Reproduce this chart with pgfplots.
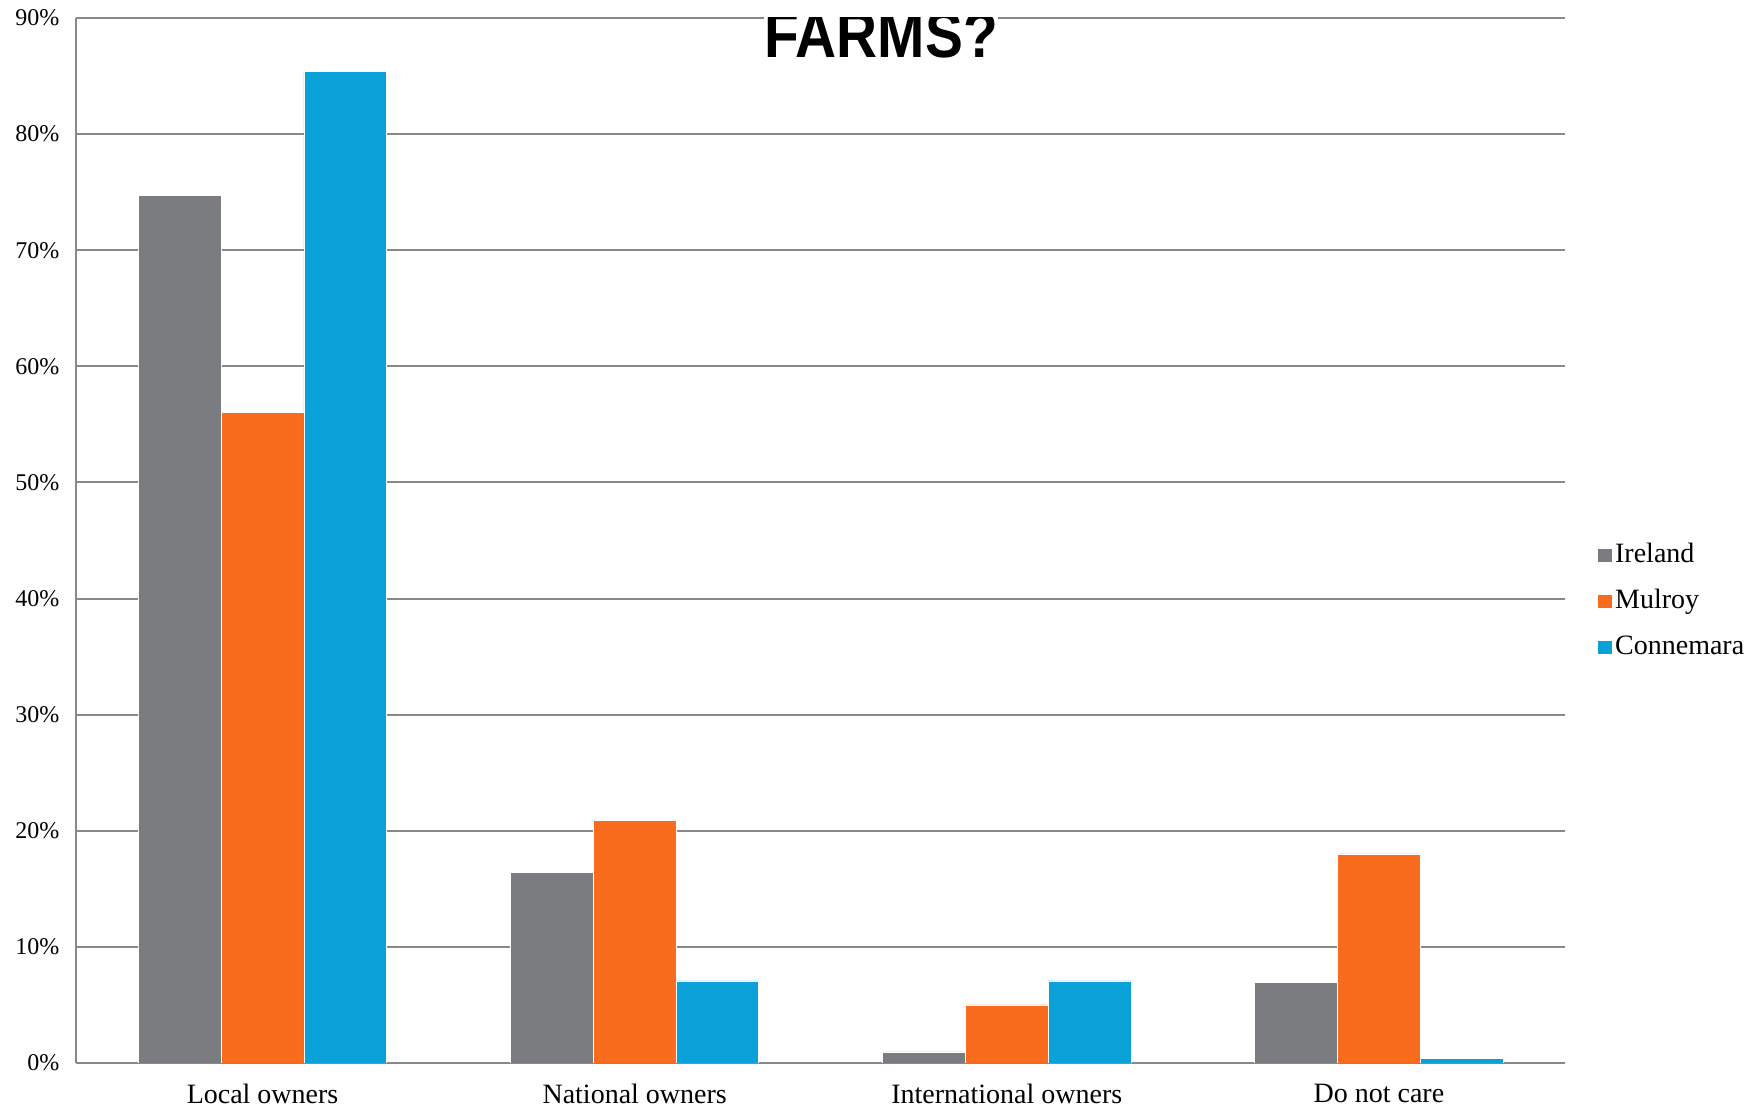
\documentclass[border=0pt]{standalone}
\usepackage{fontspec}
\setmainfont{Liberation Serif}
\newfontfamily\titlefont{Liberation Sans}
\usepackage{graphicx}
\usepackage{pgfplots}
\pgfplotsset{compat=1.18}
\definecolor{cIre}{RGB}{123,124,128}
\definecolor{cMul}{RGB}{249,107,29}
\definecolor{cCon}{RGB}{10,161,217}
\definecolor{axgray}{RGB}{137,137,137}
\begin{document}
\begin{tikzpicture}
\begin{axis}[
  scale only axis, width=744.25pt, height=522.5pt,
  xmin=-0.5, xmax=3.5, ymin=0, ymax=90,
  ybar=0pt, bar width=41.4pt,
  axis x line=bottom, axis y line=left,
  axis line style={draw=axgray, line width=1pt, -},
  xtick={0,1,2,3},
  xticklabels={Local owners, National owners, International owners, Do not care},
  ytick={0,10,...,90},
  yticklabels={0\%,10\%,20\%,30\%,40\%,50\%,60\%,70\%,80\%,90\%},
  major tick length=0pt,
  ymajorgrids, grid style={draw=axgray, line width=1pt},
  xticklabel style={font=\fontsize{14}{16}\selectfont, yshift=-7pt},
  yticklabel style={font=\fontsize{12}{14}\selectfont, xshift=-5pt},
  legend style={draw=none, fill=none, inner sep=0pt,
    at={(axis description cs:1.0212,0.442)}, anchor=west,
    font=\fontsize{14}{16}\selectfont, row sep=7.6pt,
    nodes={inner sep=1.2pt, text height=10pt, text depth=3pt}},
  legend cell align=left,
  legend image code/.code={\fill[#1] (0pt,-3.6pt) rectangle (7.5pt,3.6pt);},
]
\addplot[fill=cIre, draw=white, line width=0.4pt] coordinates {(0,74.7) (1,16.4) (2,0.95) (3,6.95)};
\addplot[fill=cMul, draw=white, line width=0.4pt] coordinates {(0,56.0) (1,20.9) (2,5.0) (3,18.0)};
\addplot[fill=cCon, draw=white, line width=0.4pt] coordinates {(0,85.4) (1,7.07) (2,7.07) (3,0.37)};
\legend{Ireland, Mulroy, Connemara}
\node[fill=white, inner sep=0pt, anchor=center] at (axis description cs:0.5405,0.984)
  {\scalebox{1}[1.15]{\titlefont\bfseries\fontsize{28.4}{30}\selectfont FARMS?}};
\end{axis}
\pgfresetboundingbox
\path[use as bounding box] (-38.25pt,-25pt) rectangle (839.25pt,531.5pt);
\end{tikzpicture}
\end{document}
